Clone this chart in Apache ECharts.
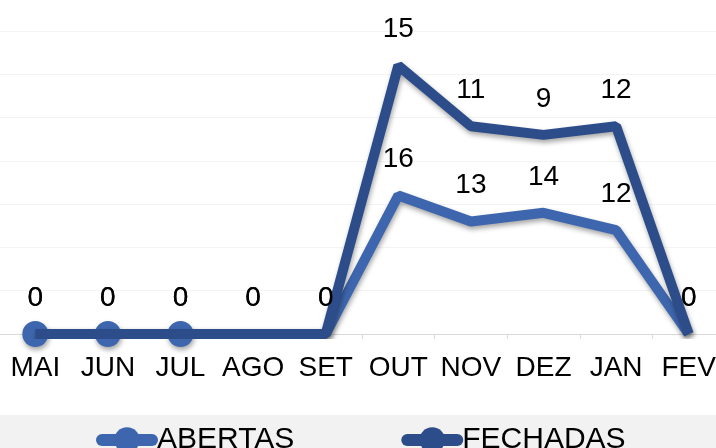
<!DOCTYPE html>
<html>
<head>
<meta charset="utf-8">
<script src="https://cdn.jsdelivr.net/npm/echarts@6/dist/echarts.min.js"></script>
<style>html,body{margin:0;padding:0;background:#fff;overflow:hidden;}#c{width:740px;height:448px;margin-left:-1px;}</style>
</head>
<body>
<div id="c"></div>
<script>
const categories = ['MAI','JUN','JUL','AGO','SET','OUT','NOV','DEZ','JAN','FEV'];
const abertas = [0,0,0,0,0,16,13,14,12,0];
const fechadas = [0,0,0,0,0,15,11,9,12,0];
const abertasMarkerIdx = [0,1,2];
const yTicks = [0,5,10,15,20,25,30,35];

const C1 = '#3e66ae', C2 = '#2c4d89';
const FONT = '"Liberation Sans", Arial, sans-serif';

function items(vals, markIdx) {
  return vals.map((v, i) => markIdx.indexOf(i) >= 0 ? { value: v } :
    { value: v, itemStyle: { color: 'rgba(0,0,0,0)', shadowBlur: 0 } });
}
const shadow = { shadowColor: 'rgba(0,0,0,0.35)', shadowBlur: 5, shadowOffsetX: 1, shadowOffsetY: 3 };
const lbl = { show: true, position: 'top', distance: 9, fontSize: 28, color: '#000', fontFamily: FONT };

const chart = echarts.init(document.getElementById('c'), null, { renderer: 'canvas' });
chart.setOption({
  animation: false,
  backgroundColor: '#fff',
  graphic: [{ type: 'rect', left: 0, top: 415, shape: { width: 740, height: 33 }, style: { fill: '#f2f2f2' }, z: -10 }],
  grid: { left: 0, top: 31, width: 726, height: 303, containLabel: false },
  legend: {
    left: 92, top: 420, itemWidth: 50, itemHeight: 32, itemGap: 107,
    textStyle: { fontSize: 30, color: '#000', fontFamily: FONT },
    lineStyle: { width: 12, cap: 'round' },
    data: ['ABERTAS', 'FECHADAS']
  },
  xAxis: {
    type: 'category', data: categories, boundaryGap: true,
    axisLine: { lineStyle: { color: '#d9d9d9', width: 1 } },
    axisTick: { show: true, length: 5, lineStyle: { color: '#d9d9d9' } },
    axisLabel: { fontSize: 28, color: '#000', margin: 20, fontFamily: FONT, interval: 0 },
    splitLine: { show: false }
  },
  yAxis: {
    type: 'value', min: yTicks[0], max: yTicks[yTicks.length - 1], interval: yTicks[1] - yTicks[0],
    axisLabel: { show: false }, axisLine: { show: false }, axisTick: { show: false },
    splitLine: { lineStyle: { color: '#f4f4f4', width: 1 } }
  },
  series: [
    {
      name: 'ABERTAS', type: 'line', stack: 'total', data: items(abertas, abertasMarkerIdx),
      symbol: 'circle', symbolSize: 26, showAllSymbol: true,
      lineStyle: Object.assign({ color: C1, width: 10 }, shadow),
      itemStyle: Object.assign({ color: C1, borderWidth: 0 }, shadow),
      label: lbl, z: 2
    },
    {
      name: 'FECHADAS', type: 'line', stack: 'total', data: items(fechadas, []),
      symbol: 'circle', symbolSize: 26, showAllSymbol: true,
      lineStyle: Object.assign({ color: C2, width: 10 }, shadow),
      itemStyle: { color: C2, borderWidth: 0 },
      label: lbl, z: 3
    }
  ]
});
</script>
</body>
</html>
